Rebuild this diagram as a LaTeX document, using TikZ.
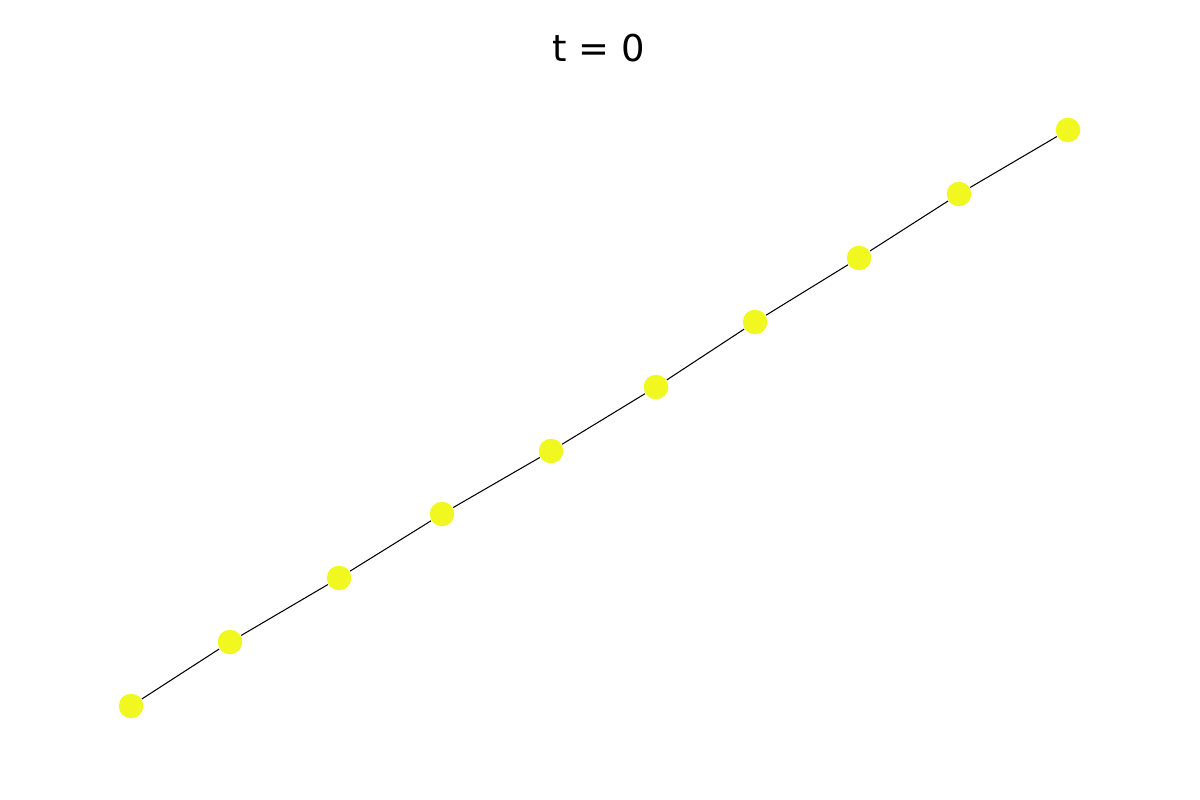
\documentclass[tikz,border=0pt]{standalone}
\usepackage{fontspec}
\setmainfont{DejaVu Sans}
\definecolor{nodeyellow}{RGB}{240,248,32}
\tikzset{
    chainnode/.style={circle, fill=nodeyellow, draw=none, minimum size=0.245cm, inner sep=0pt},
    link/.style={draw=black, line width=0.3pt}
}
\begin{document}
\begin{tikzpicture}[x=0.01cm, y=-0.01cm]
        % Frame
        \useasboundingbox (0,0) rectangle (1200,800);
        \fill[white] (0,0) rectangle (1200,800);
        % Title
        \node (title) at (599,48) {\fontsize{10.5}{12}\selectfont t = 0};
        % Links first, nodes on top
        \coordinate (p0) at (131,706);
        \coordinate (p9) at (1068,130);
        \node (n0) [chainnode] at (131,706) {};
        \node (n1) [chainnode] at (230,642) {};
        \node (n2) [chainnode] at (339,578) {};
        \node (n3) [chainnode] at (442,514) {};
        \node (n4) [chainnode] at (551,451) {};
        \node (n5) [chainnode] at (656,387) {};
        \node (n6) [chainnode] at (755,322) {};
        \node (n7) [chainnode] at (859,258) {};
        \node (n8) [chainnode] at (959,194) {};
        \node (n9) [chainnode] at (1068,130) {};
        % Connections
        \foreach \i [evaluate=\i as \j using int(\i+1)] in {0,...,8}
            \draw [link] (n\i) -- (n\j);
    \end{tikzpicture}
\end{document}
